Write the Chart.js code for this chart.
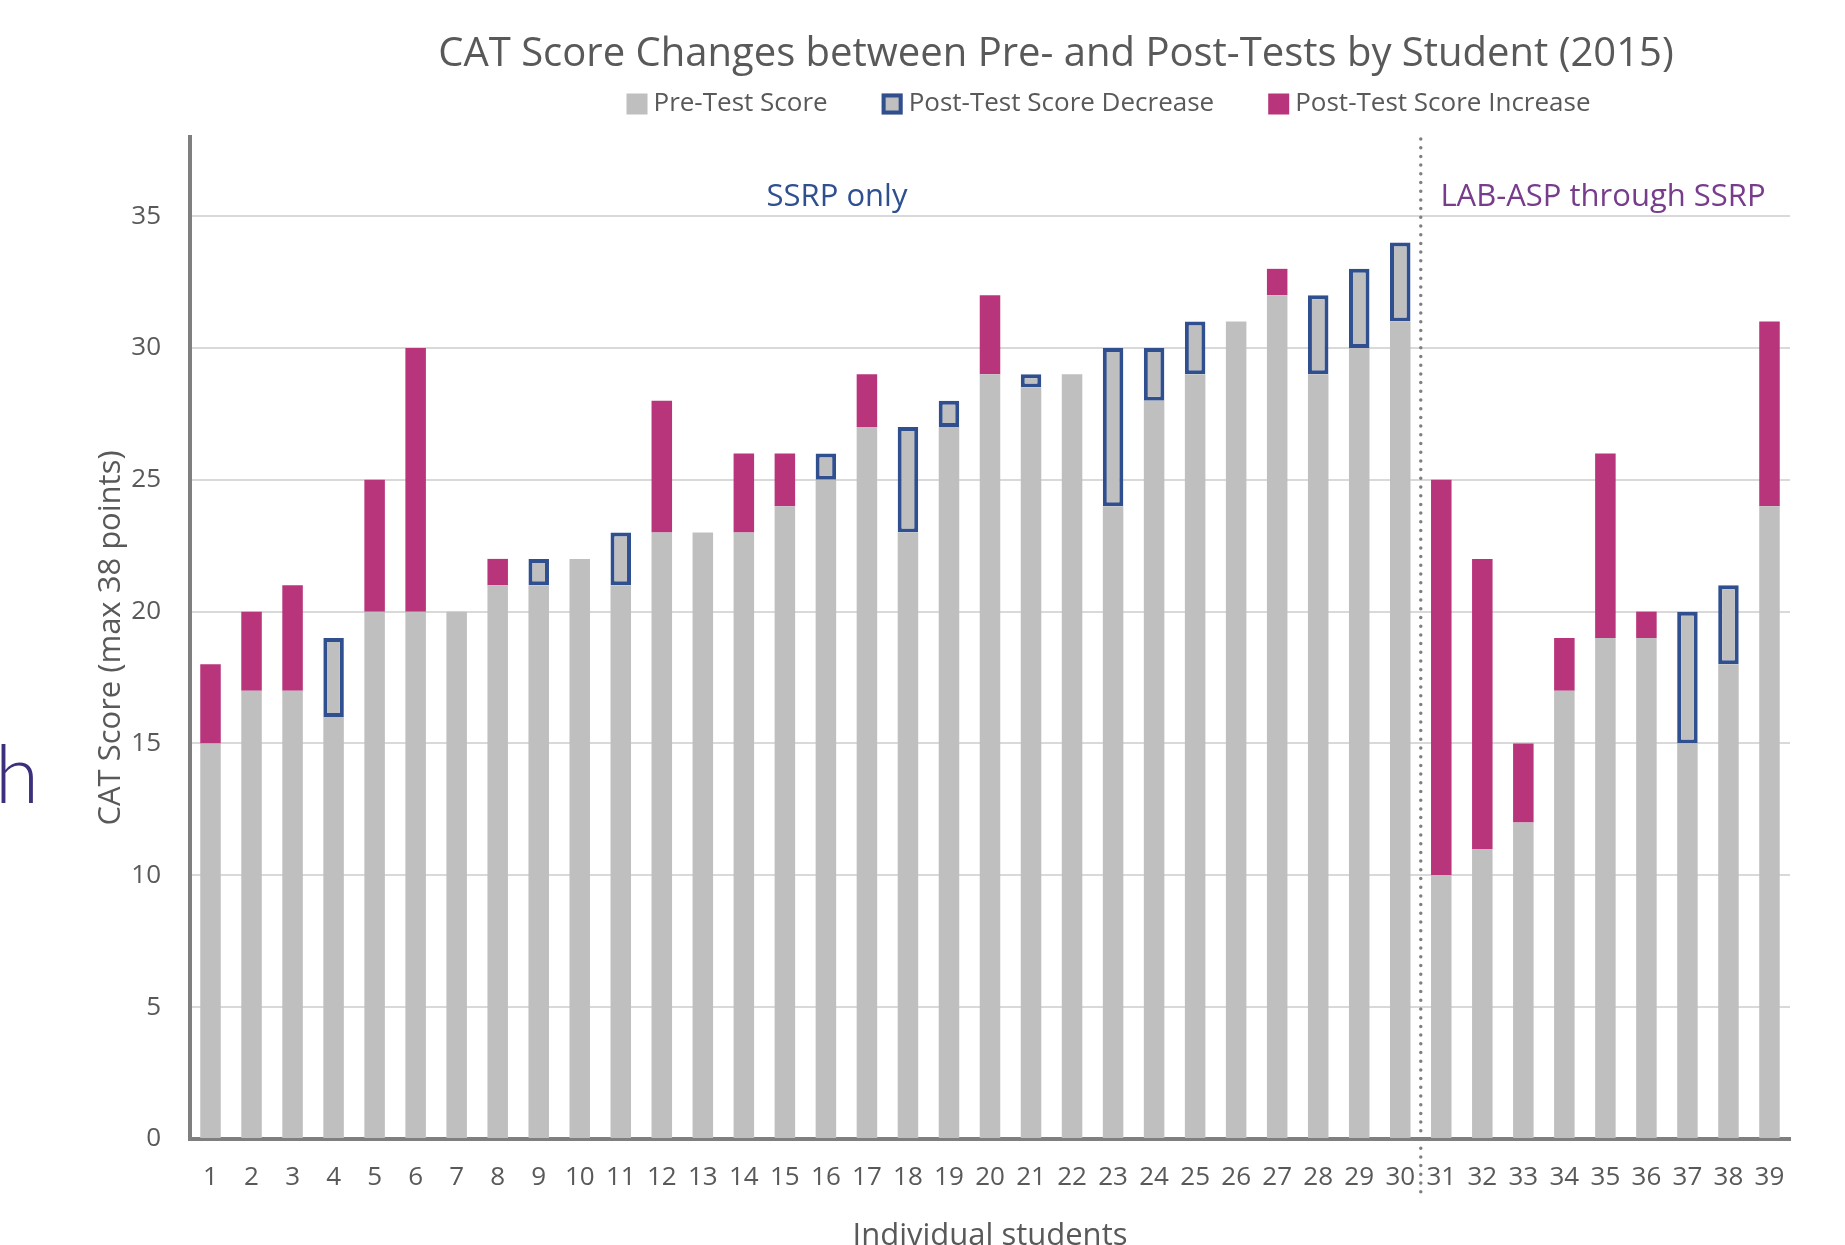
<!DOCTYPE html>
<html>
<head>
<meta charset="utf-8">
<script src="https://cdn.jsdelivr.net/npm/chart.js@4.4.1/dist/chart.umd.min.js"></script>
<style>
  html, body { margin: 0; padding: 0; background: #fff; }
  canvas { display: block; }
</style>
</head>
<body>
<canvas id="chart" width="1845" height="1245"></canvas>
<script>
const students = ["1","2","3","4","5","6","7","8","9","10","11","12","13","14","15","16","17","18","19","20",
                  "21","22","23","24","25","26","27","28","29","30","31","32","33","34","35","36","37","38","39"];
const preScores  = [15,17,17,19,20,20,20,21,22,22, 23,23,23,23,24,26,27,27,28,29,
                    29,29,30,30,31,31,32,32,33,34, 10,11,12,17,19,19,20,21,24];
const postScores = [18,20,21,16,25,30,20,22,21,22, 21,28,23,26,26,25,29,23,27,32,
                    28.5,29,24,28,29,31,33,29,30,31, 25,22,15,19,26,20,15,18,31];
const yTicks = [0, 5, 10, 15, 20, 25, 30, 35];
const yMax = 38;
const groupNames = ["SSRP only", "LAB-ASP through SSRP"];
const lastOfFirstGroup = "30";

const chartTitle = "CAT Score Changes between Pre- and Post-Tests by Student (2015)";

// gray bar is the lower of the two scores, then the change on top
const baseScores = preScores.map((p, i) => Math.min(p, postScores[i]));
const decreases = preScores.map((p, i) => p > postScores[i] ? p - postScores[i] : null);
const increases = preScores.map((p, i) => postScores[i] > p ? postScores[i] - p : null);

const TEXT = "#595959";
const GRAY = "#bfbfbf";
const BLUE = "#2f4f8f";
const MAGENTA = "#b8357c";

const overlay = {
  id: "overlay",
  afterDraw(chart) {
    const { ctx, chartArea, scales: { x } } = chart;
    ctx.save();

    // title
    ctx.fillStyle = TEXT;
    ctx.font = "40px 'Open Sans'";
    ctx.textAlign = "center";
    ctx.textBaseline = "middle";
    ctx.fillText(chartTitle, 1056, 54.5);

    // legend
    ctx.font = "26px 'Open Sans'";
    ctx.textAlign = "left";
    const box = 21, gap = 6, itemGap = 54;
    const items = chart.data.datasets.map(ds => ({
      label: ds.label, fill: ds.backgroundColor, border: ds.borderWidth ? ds.borderColor : null,
      w: box + gap + ctx.measureText(ds.label).width
    }));
    const total = items.reduce((s, it) => s + it.w, 0) + itemGap * (items.length - 1);
    let lx = 1108.5 - total / 2;
    const ly = 104;
    items.forEach(it => {
      ctx.fillStyle = it.fill;
      ctx.fillRect(lx, ly - box / 2, box, box);
      if (it.border) {
        ctx.strokeStyle = it.border;
        ctx.lineWidth = 4;
        ctx.strokeRect(lx + 2, ly - box / 2 + 2, box - 4, box - 4);
      }
      ctx.fillStyle = TEXT;
      ctx.fillText(it.label, lx + box + gap, ly);
      lx += it.w + itemGap;
    });

    // group divider
    const i = students.indexOf(lastOfFirstGroup);
    const dx = (x.getPixelForValue(i) + x.getPixelForValue(i + 1)) / 2;
    ctx.strokeStyle = "#808080";
    ctx.lineWidth = 3.5;
    ctx.lineCap = "round";
    ctx.setLineDash([0, 8.7]);
    ctx.beginPath();
    ctx.moveTo(dx, chartArea.top + 2);
    ctx.lineTo(dx, 1194);
    ctx.stroke();
    ctx.setLineDash([]);

    // group labels
    ctx.font = "31px 'Open Sans'";
    ctx.textAlign = "center";
    ctx.fillStyle = BLUE;
    ctx.fillText(groupNames[0], 837, 197.5);
    ctx.fillStyle = "#783c8c";
    ctx.fillText(groupNames[1], 1603, 197.5);

    // cropped letter left over from the slide at the left edge
    ctx.font = "300 80px Lato";
    ctx.textAlign = "left";
    ctx.textBaseline = "alphabetic";
    ctx.fillStyle = "#3d2f7c";
    ctx.fillText("h", -5, 803);

    ctx.restore();
  }
};

const ctx = document.getElementById("chart").getContext("2d");
const chart = new Chart(ctx, {
  type: "bar",
  data: {
    labels: students,
    datasets: [
      { label: "Pre-Test Score", data: baseScores, backgroundColor: GRAY, borderWidth: 0 },
      { label: "Post-Test Score Decrease", data: decreases, backgroundColor: GRAY,
        borderColor: BLUE, borderWidth: 4, borderSkipped: false },
      { label: "Post-Test Score Increase", data: increases, backgroundColor: MAGENTA, borderWidth: 0 }
    ]
  },
  options: {
    responsive: false,
    animation: false,
    devicePixelRatio: 1,
    layout: { padding: { top: 137, right: 55, left: 0, bottom: 0 } },
    datasets: { bar: { barPercentage: 0.5, categoryPercentage: 1 } },
    plugins: {
      legend: { display: false },
      title: { display: false },
      tooltip: { enabled: false }
    },
    scales: {
      x: {
        stacked: true,
        grid: { display: false, drawTicks: false },
        border: { display: true, color: "#7f7f7f", width: 4 },
        ticks: { color: TEXT, font: { family: "'Open Sans'", size: 26 }, padding: 23, maxRotation: 0, autoSkip: false },
        title: { display: true, text: "Individual students", color: TEXT,
                 font: { family: "'Open Sans'", size: 31, lineHeight: 0.6 }, padding: { top: 0, bottom: 0 } },
        afterFit(scale) { scale.height = 106; }
      },
      y: {
        stacked: true,
        min: 0,
        max: yMax,
        afterBuildTicks(scale) { scale.ticks = yTicks.map(v => ({ value: v })); },
        grid: { color: "#d9d9d9", lineWidth: 2, drawTicks: false },
        border: { display: true, color: "#7f7f7f", width: 4 },
        ticks: { color: TEXT, font: { family: "'Open Sans'", size: 26 }, padding: 29 },
        title: { display: true, text: "CAT Score (max 38 points)", color: TEXT,
                 font: { family: "'Open Sans'", size: 31 }, padding: { top: 93, bottom: 0 } },
        afterFit(scale) { scale.width = 190; }
      }
    }
  },
  plugins: [overlay]
});
</script>
</body>
</html>
